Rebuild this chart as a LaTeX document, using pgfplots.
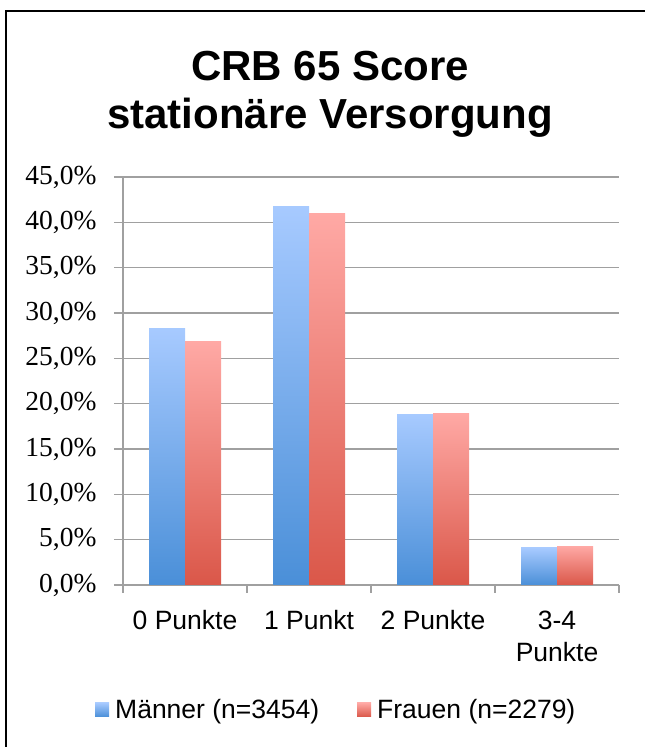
\documentclass[border=0pt]{standalone}
\usepackage{pgfplots}
\pgfplotsset{compat=1.18}
\usepackage{fontspec}
\setmainfont{Liberation Sans}
\newfontfamily\serfont{Liberation Serif}
\definecolor{gridgray}{HTML}{A0A0A0}
\definecolor{bluetop}{HTML}{A7CAFF}
\definecolor{bluebot}{HTML}{4A8FD8}
\definecolor{redtop}{HTML}{FFA9A5}
\definecolor{redbot}{HTML}{DA5749}
\begin{document}
\begin{tikzpicture}
\useasboundingbox (0,0) rectangle (645pt,747pt);
\draw[line width=2pt] (6pt,0pt) -- (6pt,736pt) -- (645pt,736pt);
\node[anchor=base, inner sep=0pt, font=\fontsize{42}{48}\selectfont\bfseries] at (330pt,666pt) {CRB 65 Score};
\node[anchor=base, inner sep=0pt, font=\fontsize{42}{48}\selectfont\bfseries] at (330pt,618pt) {stationäre Versorgung};
\begin{axis}[
  at={(123pt,162pt)}, anchor=south west,
  scale only axis, width=496pt, height=408pt,
  ymin=0, ymax=45, xmin=-0.5, xmax=3.5,
  ybar=0pt, bar width=36pt,
  axis line style={gridgray, line width=1.5pt},
  axis x line*=bottom, axis y line*=left,
  ymajorgrids, major grid style={gridgray, line width=1.6pt},
  ytick={0,5,10,15,20,25,30,35,40,45},
  yticklabels={{0,0\%},{5,0\%},{10,0\%},{15,0\%},{20,0\%},{25,0\%},{30,0\%},{35,0\%},{40,0\%},{45,0\%}},
  yticklabel style={font=\serfont\fontsize{27.5}{30}\selectfont, xshift=-14pt},
  xtick={0,1,2,3},
  xticklabels={0 Punkte, 1 Punkt, 2 Punkte, {3-4\\Punkte}},
  xticklabel style={font=\fontsize{26.5}{32}\selectfont, align=center, yshift=-13pt},
  minor xtick={-0.5,0.5,1.5,2.5,3.5},
  tick align=outside,
  major tick length=9pt, minor tick length=8pt,
  ytick style={gridgray, line width=1.6pt},
  xtick style={draw=none},
  minor x tick style={gridgray, line width=1.5pt, draw=gridgray},
  legend columns=-1,
  legend style={at={(0.428,-0.306)}, anchor=center, draw=none, fill=none,
    font=\fontsize{26.5}{30}\selectfont, inner sep=0pt, nodes={inner sep=0pt},
    /tikz/every odd column/.append style={column sep=6pt},
    /tikz/every even column/.append style={column sep=38pt}},
  legend image code/.code={\fill[#1, draw=none] (0pt,-7pt) rectangle (14pt,7pt);},
]
% Maenner
\addplot[draw=none, top color=bluetop, bottom color=bluebot, bar shift=-18pt] coordinates {(0,28.3)};
\addplot[draw=none, top color=redtop, bottom color=redbot, bar shift=18pt] coordinates {(0,26.9)};
\legend{Männer (n=3454), Frauen (n=2279)}
\addplot[draw=none, top color=bluetop, bottom color=bluebot, bar shift=-18pt, forget plot] coordinates {(1,41.8)};
\addplot[draw=none, top color=bluetop, bottom color=bluebot, bar shift=-18pt, forget plot] coordinates {(2,18.85)};
\addplot[draw=none, top color=bluetop, bottom color=bluebot, bar shift=-18pt, forget plot] coordinates {(3,4.1)};
% Frauen
\addplot[draw=none, top color=redtop, bottom color=redbot, bar shift=18pt, forget plot] coordinates {(1,41.0)};
\addplot[draw=none, top color=redtop, bottom color=redbot, bar shift=18pt, forget plot] coordinates {(2,18.95)};
\addplot[draw=none, top color=redtop, bottom color=redbot, bar shift=18pt, forget plot] coordinates {(3,4.3)};
\end{axis}
\end{tikzpicture}
\end{document}
